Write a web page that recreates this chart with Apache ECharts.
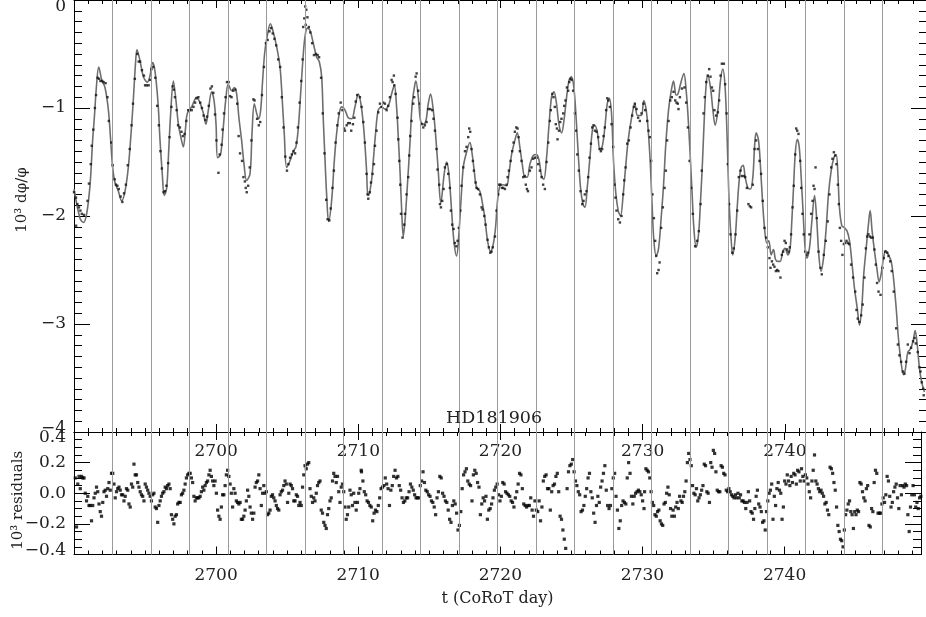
<!DOCTYPE html>
<html>
<head>
<meta charset="utf-8">
<title>HD181906</title>
<script src="https://cdn.jsdelivr.net/npm/echarts@6/dist/echarts.min.js"></script>
<style>
  html, body { margin: 0; background: #fff; }
  #chart { width: 926px; height: 617px; }
</style>
</head>
<body>
<div id="chart"></div>
<script>
// fitted model (grey curve), [day, 10^3 dphi/phi]
const modelCurve = [
  [2690.00,-1.75],[2690.42,-2.02],[2690.66,-2.06],[2690.89,-1.98],[2691.13,-1.71],[2691.31,-1.30],[2691.43,-1.09],[2691.59,-0.78],[2691.74,-0.62],[2691.95,-0.74],
  [2692.18,-0.81],[2692.42,-1.02],[2692.58,-1.30],[2692.72,-1.55],[2692.88,-1.69],[2693.12,-1.77],[2693.35,-1.86],[2693.59,-1.77],[2693.82,-1.55],[2694.01,-1.24],
  [2694.17,-0.93],[2694.34,-0.56],[2694.43,-0.46],[2694.64,-0.56],[2694.88,-0.71],[2695.16,-0.76],[2695.35,-0.70],[2695.51,-0.58],[2695.63,-0.61],[2695.77,-0.74],
  [2695.93,-0.99],[2696.05,-1.30],[2696.21,-1.61],[2696.35,-1.81],[2696.52,-1.74],[2696.66,-1.40],[2696.80,-1.05],[2696.99,-0.75],[2697.17,-0.93],[2697.34,-1.15],
  [2697.50,-1.26],[2697.69,-1.36],[2697.85,-1.18],[2697.97,-1.05],[2698.27,-0.99],[2698.63,-0.90],[2698.86,-0.95],[2699.10,-1.05],[2699.28,-1.15],[2699.45,-1.02],
  [2699.68,-0.85],[2699.85,-0.93],[2699.99,-1.15],[2700.10,-1.46],[2700.31,-1.43],[2700.50,-1.18],[2700.67,-0.93],[2700.85,-0.78],[2701.09,-0.84],[2701.28,-0.81],
  [2701.44,-0.87],[2701.60,-1.09],[2701.79,-1.30],[2701.96,-1.52],[2702.14,-1.67],[2702.38,-1.61],[2702.52,-1.24],[2702.68,-0.96],[2702.85,-1.05],[2702.99,-1.10],
  [2703.13,-1.02],[2703.27,-0.74],[2703.43,-0.47],[2703.67,-0.28],[2703.81,-0.22],[2704.02,-0.30],[2704.25,-0.43],[2704.49,-0.62],[2704.65,-0.93],[2704.79,-1.24],
  [2704.96,-1.55],[2705.19,-1.49],[2705.43,-1.40],[2705.61,-1.36],[2705.78,-1.18],[2705.94,-0.87],[2706.13,-0.50],[2706.25,-0.34],[2706.41,-0.26],[2706.60,-0.28],
  [2706.83,-0.40],[2707.07,-0.53],[2707.25,-0.57],[2707.42,-0.71],[2707.53,-1.09],[2707.65,-1.46],[2707.77,-1.80],[2707.91,-2.05],[2708.12,-1.86],[2708.31,-1.49],
  [2708.47,-1.24],[2708.66,-1.05],[2708.82,-0.99],[2709.06,-1.02],[2709.29,-1.09],[2709.53,-1.10],[2709.76,-0.99],[2710.00,-0.87],
  [2710.18,-0.96],[2710.35,-1.15],[2710.46,-1.33],[2710.58,-1.58],[2710.67,-1.81],[2710.76,-1.80],[2710.93,-1.67],[2711.05,-1.49],[2711.21,-1.24],[2711.40,-1.02],
  [2711.64,-0.99],[2711.87,-1.01],[2712.11,-0.98],[2712.34,-0.87],[2712.53,-0.79],[2712.69,-0.99],[2712.81,-1.27],[2712.93,-1.58],[2713.04,-1.92],[2713.16,-2.19],
  [2713.28,-2.05],[2713.44,-1.74],[2713.63,-1.33],[2713.79,-0.96],[2713.98,-0.78],[2714.05,-0.75],[2714.22,-0.90],[2714.38,-1.12],[2714.57,-1.15],[2714.75,-1.12],
  [2714.92,-0.96],[2715.08,-0.87],[2715.27,-1.02],[2715.43,-1.24],[2715.62,-1.58],[2715.80,-1.88],[2716.04,-1.61],[2716.21,-1.50],[2716.37,-1.61],[2716.56,-1.95],
  [2716.72,-2.23],[2716.91,-2.37],[2717.07,-2.17],[2717.22,-1.86],[2717.38,-1.55],[2717.57,-1.43],[2717.85,-1.32],[2718.01,-1.43],[2718.15,-1.58],[2718.32,-1.74],
  [2718.55,-1.77],[2718.74,-1.89],[2718.90,-2.02],[2719.09,-2.23],[2719.30,-2.33],[2719.49,-2.26],[2719.65,-2.11],[2719.79,-1.86],[2719.96,-1.72],[2720.19,-1.71],
  [2720.43,-1.72],[2720.59,-1.61],[2720.78,-1.43],[2721.01,-1.30],[2721.18,-1.23],[2721.36,-1.36],[2721.53,-1.52],[2721.72,-1.64],[2721.88,-1.64],[2722.07,-1.52],
  [2722.30,-1.44],[2722.54,-1.43],[2722.72,-1.49],[2722.89,-1.63],[2723.05,-1.66],[2723.24,-1.46],[2723.40,-1.18],[2723.59,-0.90],[2723.76,-0.85],[2723.94,-0.96],
  [2724.11,-1.15],[2724.30,-1.23],[2724.46,-1.12],[2724.65,-0.90],[2724.83,-0.74],[2725.00,-0.71],[2725.16,-0.81],[2725.30,-1.05],[2725.47,-1.43],[2725.63,-1.74],
  [2725.80,-1.89],[2725.94,-1.92],[2726.10,-1.74],[2726.29,-1.46],[2726.48,-1.19],[2726.64,-1.16],[2726.83,-1.24],[2726.99,-1.38],[2727.15,-1.36],[2727.34,-1.18],
  [2727.51,-0.96],[2727.65,-0.91],[2727.81,-1.05],[2727.95,-1.49],[2728.12,-1.80],[2728.28,-1.95],[2728.44,-2.00],[2728.63,-1.80],[2728.80,-1.55],[2728.98,-1.30],
  [2729.22,-1.09],[2729.45,-0.96],[2729.64,-1.07],
  [2729.90,-1.07],[2730.08,-0.93],[2730.25,-1.02],[2730.41,-1.24],[2730.55,-1.55],[2730.67,-1.92],[2730.79,-2.23],[2730.95,-2.37],[2731.12,-2.30],[2731.30,-2.02],
  [2731.47,-1.71],[2731.63,-1.33],[2731.82,-1.02],[2732.01,-0.84],[2732.17,-0.75],[2732.36,-0.88],[2732.48,-0.87],[2732.64,-0.79],[2732.90,-0.68],[2733.06,-0.84],
  [2733.18,-1.05],[2733.34,-1.43],[2733.48,-1.80],[2733.60,-2.11],[2733.76,-2.29],[2733.93,-2.17],[2734.07,-1.86],[2734.21,-1.49],[2734.35,-1.05],[2734.47,-0.78],
  [2734.58,-0.70],[2734.77,-0.81],[2734.94,-1.02],[2735.10,-1.16],[2735.29,-1.02],[2735.48,-0.74],[2735.64,-0.64],[2735.80,-0.81],[2735.94,-1.27],[2736.06,-1.80],
  [2736.20,-2.17],[2736.34,-2.36],[2736.51,-2.20],[2736.65,-1.92],[2736.79,-1.67],[2736.93,-1.55],[2737.07,-1.53],[2737.21,-1.64],[2737.40,-1.74],[2737.58,-1.75],
  [2737.75,-1.64],[2737.87,-1.36],[2737.98,-1.23],[2738.15,-1.30],[2738.29,-1.55],[2738.43,-1.86],[2738.57,-2.11],[2738.73,-2.25],[2738.87,-2.23],[2739.04,-2.36],
  [2739.20,-2.31],[2739.34,-2.40],[2739.51,-2.42],[2739.67,-2.42],[2739.86,-2.33],[2740.02,-2.30],[2740.21,-2.36],[2740.37,-2.30],[2740.49,-2.05],[2740.61,-1.74],
  [2740.73,-1.43],[2740.87,-1.29],[2741.01,-1.36],[2741.15,-1.64],[2741.29,-1.98],[2741.43,-2.30],[2741.55,-2.39],[2741.73,-2.30],[2741.90,-2.05],[2742.09,-1.81],
  [2742.25,-2.05],[2742.39,-2.36],[2742.55,-2.51],[2742.72,-2.39],[2742.91,-2.11],[2743.07,-1.80],[2743.26,-1.58],[2743.45,-1.46],[2743.61,-1.43],[2743.73,-1.61],
  [2743.84,-1.92],[2744.01,-2.09],[2744.20,-2.11],[2744.38,-2.14],[2744.55,-2.23],[2744.71,-2.42],[2744.90,-2.67],[2745.09,-2.85],[2745.25,-3.01],[2745.41,-2.85],
  [2745.55,-2.54],[2745.72,-2.30],[2745.88,-2.08],[2746.00,-1.95],[2746.14,-2.14],[2746.31,-2.33],[2746.47,-2.48],[2746.63,-2.61],[2746.77,-2.54],[2746.94,-2.39],
  [2747.10,-2.32],[2747.29,-2.36],[2747.48,-2.42],[2747.64,-2.57],[2747.83,-2.85],[2747.99,-3.13],[2748.18,-3.36],[2748.35,-3.47],[2748.49,-3.41],[2748.65,-3.26],
  [2748.84,-3.23],[2749.02,-3.16],[2749.17,-3.06],[2749.31,-3.19],[2749.47,-3.41],[2749.63,-3.54],[2749.82,-3.63]
]

// observed points (black dots), [day, 10^3 dphi/phi]
const observed = [
  [2690.00,-1.78],[2690.14,-1.83],[2690.15,-2.09],[2690.24,-1.89],[2690.35,-1.92],[2690.45,-1.95],[2690.55,-1.98],[2690.70,-1.99],[2690.95,-1.86],[2691.05,-1.70],
  [2691.18,-1.52],[2691.25,-1.35],[2691.36,-1.20],[2691.47,-1.00],[2691.55,-0.88],[2691.66,-0.72],[2691.76,-0.73],[2691.86,-0.75],[2691.98,-0.75],[2692.08,-0.76],
  [2692.22,-0.77],[2692.35,-0.90],[2692.45,-1.12],[2692.62,-1.32],[2692.72,-1.53],[2692.86,-1.66],[2692.95,-1.71],[2693.05,-1.72],[2693.15,-1.75],[2693.28,-1.82],
  [2693.40,-1.87],[2693.52,-1.79],[2693.65,-1.71],[2693.78,-1.53],[2693.92,-1.38],[2694.05,-1.16],[2694.15,-0.96],[2694.28,-0.73],[2694.45,-0.50],[2694.55,-0.57],
  [2694.65,-0.57],[2694.78,-0.65],[2694.92,-0.70],[2695.00,-0.79],[2695.12,-0.79],[2695.25,-0.79],[2695.35,-0.74],[2695.45,-0.64],[2695.58,-0.62],[2695.72,-0.72],
  [2695.85,-0.98],[2695.97,-1.16],[2696.08,-1.40],[2696.18,-1.56],[2696.30,-1.78],[2696.40,-1.77],[2696.50,-1.72],[2696.62,-1.51],[2696.72,-1.27],[2696.85,-0.99],
  [2696.94,-0.80],[2697.02,-0.83],[2697.10,-0.90],[2697.22,-1.02],[2697.32,-1.16],[2697.45,-1.18],[2697.56,-1.22],[2697.66,-1.26],[2697.78,-1.24],[2697.90,-1.12],
  [2698.03,-1.02],[2698.15,-1.02],[2698.28,-1.02],[2698.40,-0.99],[2698.52,-0.95],[2698.62,-0.91],[2698.75,-0.90],[2698.88,-0.95],[2699.00,-1.00],[2699.12,-1.07],
  [2699.24,-1.11],[2699.36,-1.08],[2699.48,-0.98],[2699.60,-0.82],[2699.70,-0.80],[2699.80,-0.86],[2699.92,-1.06],[2700.02,-1.30],[2700.16,-1.60],[2700.25,-1.43],
  [2700.38,-1.34],[2700.45,-1.20],[2700.55,-1.05],[2700.66,-0.90],[2700.76,-0.76],[2700.88,-0.76],[2700.98,-0.89],[2701.08,-0.90],[2701.20,-0.84],[2701.35,-0.83],
  [2701.48,-0.96],[2701.58,-1.26],[2701.68,-1.42],[2701.82,-1.49],[2701.92,-1.64],[2702.02,-1.68],[2702.08,-1.74],[2702.15,-1.78],[2702.25,-1.72],[2702.36,-1.55],
  [2702.48,-1.30],[2702.62,-0.92],[2702.70,-0.93],[2702.88,-1.10],[2703.00,-1.16],[2703.10,-1.13],[2703.22,-0.88],[2703.36,-0.62],[2703.50,-0.40],[2703.62,-0.37],
  [2703.75,-0.29],[2703.87,-0.26],[2703.98,-0.31],[2704.10,-0.36],[2704.22,-0.42],[2704.36,-0.55],[2704.50,-0.62],[2704.62,-0.90],[2704.74,-1.18],[2704.86,-1.45],
  [2704.98,-1.58],[2705.08,-1.52],[2705.20,-1.46],[2705.32,-1.43],[2705.44,-1.40],[2705.55,-1.42],[2705.65,-1.32],[2705.75,-1.18],[2705.87,-0.95],[2705.98,-0.75],
  [2706.08,-0.55],[2706.12,-0.25],[2706.20,-0.17],[2706.26,-0.06],[2706.34,-0.09],[2706.42,-0.16],[2706.30,-0.23],[2706.52,-0.25],[2706.62,-0.30],[2706.75,-0.40],
  [2706.88,-0.51],[2707.02,-0.50],[2707.14,-0.51],[2707.24,-0.53],[2707.38,-0.72],[2707.50,-1.05],[2707.62,-1.42],[2707.74,-1.85],[2707.84,-2.03],[2707.96,-2.04],
  [2708.06,-1.93],[2708.18,-1.74],[2708.28,-1.58],[2708.40,-1.32],[2708.52,-1.16],[2708.62,-1.05],[2708.76,-0.95],[2708.88,-1.02],[2709.00,-1.19],[2709.06,-1.21],
  [2709.18,-1.16],[2709.28,-1.14],[2709.40,-1.14],[2709.50,-1.21],[2709.62,-1.15],[2709.72,-1.09],[2709.82,-0.94],[2709.92,-0.88],
  [2710.11,-0.90],[2710.23,-0.99],[2710.35,-1.13],[2710.46,-1.32],[2710.58,-1.61],[2710.65,-1.80],[2710.70,-1.84],[2710.81,-1.78],[2710.89,-1.69],[2711.00,-1.61],
  [2711.10,-1.52],[2711.17,-1.35],[2711.28,-1.21],[2711.40,-1.04],[2711.52,-0.96],[2711.64,-0.99],[2711.75,-0.95],[2711.87,-0.96],[2711.99,-1.02],[2712.10,-0.98],
  [2712.22,-0.90],[2712.34,-0.74],[2712.41,-0.76],[2712.50,-0.70],[2712.53,-0.79],[2712.62,-0.87],[2712.76,-1.09],[2712.81,-1.29],[2712.88,-1.49],[2712.95,-1.71],
  [2713.00,-1.98],[2713.11,-2.20],[2713.23,-2.08],[2713.28,-1.98],[2713.39,-1.80],[2713.51,-1.64],[2713.58,-1.44],[2713.65,-1.26],[2713.74,-1.12],[2713.86,-0.96],
  [2713.93,-0.90],[2714.03,-0.71],[2714.10,-0.68],[2714.21,-0.84],[2714.33,-0.96],[2714.45,-1.15],[2714.57,-1.18],[2714.68,-1.16],[2714.80,-1.13],[2714.92,-1.01],
  [2715.06,-1.01],[2715.20,-1.02],[2715.29,-1.10],[2715.39,-1.21],[2715.50,-1.38],[2715.57,-1.57],[2715.69,-1.71],[2715.74,-1.89],[2715.81,-1.92],[2715.90,-1.86],
  [2716.00,-1.75],[2716.09,-1.55],[2716.23,-1.52],[2716.32,-1.61],[2716.44,-1.74],[2716.51,-1.95],[2716.60,-2.08],[2716.70,-2.12],[2716.79,-2.25],[2716.89,-2.28],
  [2716.98,-2.23],[2717.07,-2.11],[2717.17,-1.95],[2717.26,-1.72],[2717.38,-1.55],[2717.50,-1.40],[2717.61,-1.36],[2717.73,-1.27],[2717.80,-1.19],[2717.87,-1.22],
  [2717.96,-1.38],[2718.06,-1.49],[2718.13,-1.58],[2718.25,-1.69],[2718.32,-1.74],[2718.43,-1.75],[2718.55,-1.80],[2718.67,-1.92],[2718.74,-1.94],[2718.86,-2.00],
  [2718.95,-2.08],[2719.09,-2.22],[2719.18,-2.29],[2719.28,-2.34],[2719.37,-2.33],[2719.46,-2.29],[2719.61,-2.19],[2719.72,-1.95],[2719.84,-1.80],[2719.91,-1.71],
  [2720.00,-1.71],[2720.10,-1.74],[2720.19,-1.74],[2720.31,-1.75],[2720.43,-1.71],[2720.50,-1.64],[2720.59,-1.58],[2720.71,-1.49],[2720.82,-1.40],[2720.92,-1.32],
  [2721.01,-1.22],[2721.11,-1.18],[2721.20,-1.19],[2721.27,-1.27],[2721.36,-1.40],[2721.48,-1.49],[2721.60,-1.64],[2721.71,-1.63],[2721.78,-1.71],[2721.86,-1.75],
  [2721.93,-1.77],[2722.07,-1.58],[2722.18,-1.55],[2722.30,-1.47],[2722.42,-1.46],[2722.54,-1.46],[2722.65,-1.52],[2722.77,-1.58],[2722.89,-1.64],[2723.00,-1.71],
  [2723.12,-1.75],[2723.24,-1.50],[2723.36,-1.32],[2723.47,-1.12],[2723.54,-1.02],[2723.64,-0.87],[2723.73,-0.90],[2723.82,-0.99],[2723.89,-1.15],[2723.97,-1.19],
  [2724.01,-1.29],[2724.11,-1.21],[2724.20,-1.13],[2724.29,-1.10],[2724.41,-1.05],[2724.48,-0.98],[2724.57,-0.93],[2724.67,-0.81],[2724.76,-0.84],[2724.83,-0.76],
  [2724.93,-0.73],[2725.00,-0.74],[2725.11,-0.84],[2725.23,-1.05],[2725.30,-1.21],[2725.40,-1.43],[2725.51,-1.58],[2725.63,-1.77],[2725.75,-1.89],[2725.84,-1.86],
  [2725.93,-1.80],[2726.05,-1.77],[2726.17,-1.64],[2726.26,-1.46],[2726.36,-1.33],[2726.45,-1.18],[2726.54,-1.16],[2726.64,-1.21],[2726.76,-1.22],[2726.87,-1.27],
  [2726.97,-1.38],[2727.06,-1.40],[2727.15,-1.38],[2727.25,-1.26],[2727.34,-1.18],[2727.43,-1.02],[2727.51,-0.91],[2727.58,-0.93],[2727.69,-0.99],[2727.81,-1.15],
  [2727.93,-1.36],[2728.02,-1.71],[2728.09,-1.83],[2728.16,-1.95],[2728.28,-2.03],[2728.40,-2.06],[2728.51,-2.00],[2728.63,-1.80],[2728.70,-1.67],[2728.80,-1.55],
  [2728.91,-1.33],[2729.03,-1.30],[2729.15,-1.18],[2729.26,-1.07],[2729.38,-0.99],[2729.45,-0.96],[2729.57,-1.01],[2729.68,-1.09],[2729.80,-1.12],[2729.92,-1.05],
  [2730.06,-0.96],
  [2730.18,-1.02],[2730.32,-1.12],[2730.41,-1.21],[2730.51,-1.27],[2730.60,-1.49],[2730.69,-1.80],[2730.79,-2.02],[2730.88,-2.23],[2730.95,-2.37],[2731.02,-2.53],
  [2731.12,-2.50],[2731.19,-2.43],[2731.30,-2.11],[2731.42,-1.92],[2731.54,-1.74],[2731.63,-1.58],[2731.72,-1.30],[2731.82,-1.12],[2731.94,-0.93],[2732.05,-0.90],
  [2732.17,-0.85],[2732.29,-0.93],[2732.38,-0.95],[2732.47,-0.96],[2732.52,-1.01],[2732.62,-0.90],[2732.76,-0.82],[2732.94,-0.81],[2733.06,-0.95],[2733.18,-1.18],
  [2733.30,-1.49],[2733.41,-1.74],[2733.53,-1.98],[2733.69,-2.28],[2733.83,-2.23],[2733.95,-2.14],[2734.07,-1.89],[2734.16,-1.58],[2734.28,-1.05],[2734.37,-0.90],
  [2734.47,-0.76],[2734.58,-0.70],[2734.68,-0.64],[2734.77,-0.71],[2734.87,-0.81],[2734.96,-0.84],[2735.05,-1.02],[2735.17,-1.07],[2735.29,-1.04],[2735.38,-0.93],
  [2735.48,-0.70],[2735.57,-0.59],[2735.71,-0.59],[2735.80,-0.78],[2735.90,-1.05],[2735.99,-1.52],[2736.08,-1.89],[2736.18,-2.17],[2736.30,-2.34],[2736.41,-2.30],
  [2736.53,-2.17],[2736.65,-1.95],[2736.76,-1.64],[2736.88,-1.58],[2736.97,-1.63],[2737.12,-1.63],[2737.21,-1.64],[2737.33,-1.74],[2737.44,-1.89],[2737.54,-1.91],
  [2737.63,-1.92],[2737.75,-1.71],[2737.87,-1.38],[2737.98,-1.30],[2738.10,-1.38],[2738.22,-1.49],[2738.33,-1.61],[2738.45,-1.86],[2738.57,-2.11],[2738.69,-2.20],
  [2738.80,-2.29],[2738.92,-2.39],[2738.99,-2.48],[2739.09,-2.42],[2739.18,-2.45],[2739.27,-2.47],[2739.37,-2.51],[2739.46,-2.50],[2739.55,-2.51],[2739.69,-2.57],
  [2739.79,-2.36],[2739.88,-2.33],[2739.98,-2.23],[2740.07,-2.25],[2740.16,-2.31],[2740.26,-2.33],[2740.35,-2.29],[2740.44,-2.17],[2740.54,-1.92],[2740.63,-1.72],
  [2740.73,-1.43],[2740.80,-1.19],[2740.87,-1.21],[2740.96,-1.24],[2741.08,-1.49],[2741.15,-1.74],[2741.24,-1.98],[2741.33,-2.17],[2741.43,-2.33],[2741.52,-2.36],
  [2741.62,-2.34],[2741.73,-2.17],[2741.85,-1.98],[2741.95,-1.86],[2742.02,-1.72],[2742.09,-1.75],[2742.16,-1.55],[2742.25,-2.02],[2742.37,-2.33],[2742.51,-2.48],
  [2742.60,-2.54],[2742.74,-2.36],[2742.88,-2.23],[2743.02,-2.05],[2743.14,-1.80],[2743.26,-1.55],[2743.35,-1.47],[2743.45,-1.41],[2743.54,-1.44],[2743.63,-1.52],
  [2743.73,-1.71],[2743.80,-1.89],[2743.87,-2.11],[2743.96,-2.23],[2744.05,-2.36],[2744.15,-2.26],[2744.24,-2.25],[2744.34,-2.23],[2744.43,-2.25],[2744.52,-2.26],
  [2744.66,-2.45],[2744.80,-2.57],[2744.95,-2.70],[2745.04,-2.87],[2745.13,-2.95],[2745.25,-2.98],[2745.37,-2.92],[2745.48,-2.82],[2745.60,-2.57],[2745.70,-2.30],
  [2745.79,-2.19],[2745.88,-2.17],[2745.98,-2.19],[2746.07,-2.20],[2746.19,-2.20],[2746.30,-2.31],[2746.40,-2.45],[2746.49,-2.62],[2746.59,-2.70],[2746.73,-2.73],
  [2746.87,-2.48],[2746.96,-2.39],[2747.05,-2.33],[2747.20,-2.34],[2747.29,-2.37],[2747.41,-2.42],[2747.52,-2.51],[2747.66,-2.70],[2747.83,-3.04],[2747.95,-3.19],
  [2748.06,-3.29],[2748.18,-3.35],[2748.30,-3.44],[2748.41,-3.46],[2748.53,-3.35],[2748.65,-3.19],[2748.77,-3.27],[2748.88,-3.22],[2749.02,-3.16],[2749.12,-3.13],
  [2749.21,-3.18],[2749.35,-3.26],[2749.47,-3.40],[2749.54,-3.44],[2749.63,-3.54],[2749.73,-3.60],[2749.77,-3.66]
]

// residuals (10^3), evenly sampled over three stretches of the run
const residualsA = [
  0.10,-0.22,0.06,0.11,0.03,0.11,0.10,0.10,0.00,-0.05,-0.02,-0.08,-0.08,-0.18,-0.08,-0.03,0.00,0.04,0.01,-0.07,
  -0.12,-0.15,-0.06,0.01,0.02,-0.02,0.03,0.07,0.02,0.13,0.13,0.06,-0.03,0.01,0.03,0.04,0.02,-0.01,-0.01,-0.05,
  -0.02,0.03,0.02,-0.07,-0.09,0.06,0.04,0.19,0.12,0.12,0.07,0.04,0.01,-0.01,-0.02,-0.05,0.06,0.04,0.02,0.00,
  -0.02,-0.05,-0.01,0.00,-0.09,-0.10,-0.19,-0.08,-0.05,-0.02,0.00,0.01,0.04,0.03,0.05,0.06,0.03,-0.14,-0.17,-0.20,
  -0.15,-0.14,-0.07,-0.06,-0.06,-0.01,0.00,0.02,0.06,0.10,0.12,0.13,0.13,0.10,0.07,-0.02,-0.05,-0.03,-0.03,-0.03,
  -0.02,0.01,0.04,0.02,0.05,0.07,0.08,0.12,0.15,0.11,0.08,0.05,0.08,0.00,-0.11,-0.15,-0.17,-0.09,-0.01,-0.01,
  0.05,0.12,0.15,0.11,0.06,0.00,-0.09,0.03,0.00,-0.05,-0.06,-0.07,-0.06,-0.17,-0.17,-0.15,-0.11,-0.05,0.02,-0.02,
  -0.09,-0.13,-0.17,-0.13,0.04,0.07,0.08,0.12,0.03,-0.08,0.00,0.05,0.00,0.01,-0.14,-0.13,-0.11,-0.02,-0.01,-0.03,
  -0.05,-0.08,-0.10,-0.11,-0.01,0.01,0.02,0.05,0.08,0.06,-0.06,0.00,0.06,0.05,0.03,-0.05,-0.05,-0.01,-0.02,-0.08,
  -0.06,-0.08,0.04,0.12,0.18,0.16,0.19,0.20,0.03,-0.02,-0.06,-0.03,-0.05,0.00,0.05,0.07,0.08,-0.11,-0.13,-0.19,
  -0.21,-0.23,-0.14,-0.10,-0.05,-0.03,0.08,0.13,0.11,0.07,0.11,0.01,-0.06,0.04,0.06,0.01,-0.09,-0.17,-0.14,-0.09,
  0.02,-0.01,-0.08,0.00,-0.06,-0.11,-0.06,0.00,0.03,0.15
]
const residualsB = [
  0.14,0.08,0.01,-0.01,-0.05,-0.06,-0.08,-0.09,-0.18,-0.13,-0.11,-0.12,-0.08,-0.03,0.03,0.04,0.05,0.10,0.06,0.03,
  -0.08,0.02,0.05,0.11,0.15,0.10,0.11,0.05,0.02,-0.03,-0.06,-0.05,-0.03,-0.03,0.01,0.06,0.04,0.02,-0.01,-0.03,
  -0.03,-0.03,0.05,0.08,0.14,0.07,0.02,0.01,-0.01,-0.02,-0.05,-0.06,-0.09,-0.14,-0.03,0.01,0.11,0.10,0.00,-0.02,
  -0.05,-0.06,-0.11,-0.17,-0.19,-0.08,-0.05,-0.07,-0.13,-0.24,-0.21,-0.12,0.03,0.12,0.14,0.16,0.08,0.06,0.05,-0.05,
  0.12,0.15,0.13,0.07,0.04,-0.14,-0.07,-0.03,-0.05,-0.02,-0.17,-0.11,-0.10,-0.07,-0.03,0.02,0.04,0.06,-0.01,-0.05,
  -0.02,0.07,0.06,0.01,0.00,-0.01,-0.02,-0.05,-0.06,-0.09,-0.03,0.01,0.06,0.13,0.12,0.03,-0.07,-0.08,-0.09,-0.08,
  -0.08,-0.03,-0.11,-0.15,-0.05,-0.11,-0.12,-0.05,-0.18,-0.09,0.08,0.11,0.12,0.03,0.03,-0.11,0.01,0.05,0.06,0.11,
  0.13,0.01,-0.15,-0.17,-0.24,-0.30,-0.36,0.03,0.14,0.18,0.19,0.22,0.14,0.08,0.05,0.01,-0.01,-0.12,-0.11,-0.08,
  -0.02,0.03,0.10,0.13,0.01,-0.03,-0.13,-0.19,-0.08,-0.02,-0.06,0.04,0.08,0.13,0.18,0.02,-0.08,-0.10,-0.08,0.03,
  0.10,0.13,-0.02,-0.11,-0.23,-0.18,-0.08,-0.05,-0.06,-0.07,0.10,0.20,0.13,-0.02,-0.07,-0.02,0.00,0.01,0.02,0.01,
  -0.01,-0.05,-0.10
]
const residualsC = [
  0.01,0.16,0.15,0.14,0.10,0.01,-0.06,-0.08,-0.14,-0.15,-0.12,-0.11,-0.18,-0.20,-0.21,-0.07,-0.06,0.00,0.04,-0.01,
  -0.10,-0.15,-0.11,-0.15,-0.09,-0.06,-0.10,-0.02,-0.05,-0.06,-0.02,0.01,0.08,0.20,0.26,0.22,0.18,0.05,0.00,-0.01,
  0.03,-0.05,-0.03,-0.01,0.02,0.05,0.19,0.18,0.01,0.00,-0.06,0.20,0.17,0.28,0.26,0.14,0.02,0.01,0.01,0.18,
  0.17,0.13,0.12,0.02,0.01,0.03,0.01,-0.01,-0.02,-0.03,-0.01,-0.03,0.00,-0.03,-0.01,-0.05,-0.05,-0.06,-0.10,-0.06,
  0.01,-0.05,-0.12,-0.13,-0.17,-0.10,-0.02,0.02,-0.07,-0.09,-0.12,-0.19,-0.18,-0.24,-0.12,-0.05,0.00,0.02,0.06,-0.17,
  -0.02,-0.08,0.03,0.07,0.02,0.00,-0.17,-0.09,0.08,0.06,0.12,0.08,0.05,0.11,0.07,0.13,0.12,0.06,0.15,0.14,
  0.08,0.16,0.11,0.08,0.12,0.10,0.06,0.01,-0.03,0.08,0.15,0.25,0.08,0.06,0.03,0.01,0.02,0.00,-0.02,-0.07,
  -0.06,-0.11,-0.14,0.17,0.16,0.13,0.07,0.02,-0.09,-0.21,-0.25,-0.30,-0.31,-0.35,-0.24,-0.14,-0.11,-0.07,-0.05,-0.12,
  -0.14,-0.23,-0.12,-0.14,-0.11,-0.12,0.07,0.06,0.01,-0.03,-0.05,0.03,0.05,-0.21,-0.22,-0.10,-0.12,0.07,0.15,0.13,
  -0.13,-0.13,-0.13,-0.07,-0.03,-0.06,-0.01,0.11,0.08,-0.02,-0.09,-0.06,0.01,0.04,0.06,-0.03,-0.10,0.05,-0.01,0.05,
  0.04,0.06,0.05,-0.14,-0.25,-0.09,-0.01,0.05,-0.01,-0.09,-0.06,-0.10,-0.03,-0.02
]
// first and last day covered by each residual stretch
const residualSpans = [[2690.09, 2710.21], [2710.23, 2730.11], [2730.15, 2749.59]]

// grey vertical markers (days)
const rotationMarks = [
  2692.72, 2695.43, 2698.14, 2700.85, 2703.55, 2706.26, 2708.97, 2711.68, 2714.38, 2717.09, 2719.80,
  2722.51, 2725.21, 2727.92, 2730.63, 2733.34, 2736.04, 2738.75, 2741.46, 2744.17, 2746.87
]

const FONT = '"DejaVu Serif", serif'
const INK = '#222'

const spread = (vals, span) => vals.map((v, i) => [span[0] + i * (span[1] - span[0]) / (vals.length - 1), v])
const residualPoints = [
  ...spread(residualsA, residualSpans[0]),
  ...spread(residualsB, residualSpans[1]),
  ...spread(residualsC, residualSpans[2])
]

const minus = (s) => String(s).replace('-', '\u2212')

function xAxisFor(grid, position, max, label, extra) {
  return Object.assign({
    type: 'value', gridIndex: grid, position: position, min: 2690, max: max, interval: 10,
    axisLine: { onZero: false, lineStyle: { color: '#000', width: 1 } },
    axisTick: { inside: true, length: 8, lineStyle: { color: '#000' } },
    minorTick: { show: true, splitNumber: 10, length: 4, lineStyle: { color: '#000' } },
    splitLine: { show: false },
    axisLabel: label
      ? Object.assign({
          show: true, fontFamily: FONT, fontSize: 17, color: INK,
          showMinLabel: false, showMaxLabel: false,
          formatter: (v) => String(v)
        }, label)
      : { show: false }
  }, extra || {})
}

function yAxisFor(grid, position, min, max, interval, minorSplit, label, extra) {
  return Object.assign({
    type: 'value', gridIndex: grid, position: position, min: min, max: max, interval: interval,
    axisLine: { onZero: false, lineStyle: { color: '#000', width: 1 } },
    axisTick: { inside: true, length: 16, lineStyle: { color: '#000' } },
    minorTick: { show: true, splitNumber: minorSplit, length: 8, lineStyle: { color: '#000' } },
    splitLine: { show: false },
    axisLabel: label
      ? Object.assign({ show: true, fontFamily: FONT, fontSize: 17, color: INK, margin: 8 }, label)
      : { show: false }
  }, extra || {})
}

const richEdge = (top, bottom) => ({
  fontFamily: FONT, fontSize: 17, color: INK, padding: [top, 0, bottom, 0]
})

const markerSeries = (xi, yi) => ({
  type: 'scatter', xAxisIndex: xi, yAxisIndex: yi, data: [], z: 1, silent: true,
  markLine: {
    symbol: ['none', 'none'], silent: true, animation: false,
    label: { show: false },
    lineStyle: { color: '#9a9a9a', width: 1, type: 'solid' },
    data: rotationMarks.map(d => ({ xAxis: d }))
  }
})

const chart = echarts.init(document.getElementById('chart'))

chart.setOption({
  animation: false,
  backgroundColor: '#fff',
  textStyle: { fontFamily: FONT },
  title: {
    text: 'HD181906',
    left: 441, top: 404,
    textStyle: { fontFamily: FONT, fontSize: 17.5, fontWeight: 'normal', color: INK }
  },
  grid: [
    { left: 74, top: 0, width: 853, height: 432, outerBoundsMode: 'none', containLabel: false },
    { left: 74, top: 432, width: 847, height: 122.5, outerBoundsMode: 'none', containLabel: false }
  ],
  xAxis: [
    xAxisFor(0, 'bottom', 2750, { margin: 11 }),
    xAxisFor(0, 'top', 2750, null),
    xAxisFor(1, 'bottom', 2749.6, { margin: 13 }, {
      name: 't (CoRoT day)', nameLocation: 'middle', nameGap: 36,
      nameTextStyle: { fontFamily: FONT, fontSize: 16, color: INK }
    }),
    xAxisFor(1, 'top', 2749.6, null)
  ],
  yAxis: [
    yAxisFor(0, 'left', -4, 0, 1, 10, {
      formatter: (v) => v === 0 ? '{t|0}' : v === -4 ? '{b|' + minus(v) + '}' : minus(v),
      rich: { t: richEdge(13, 0), b: richEdge(0, 7) }
    }, {
      name: '10\u00b3 d\u03c6/\u03c6', nameLocation: 'middle', nameGap: 42,
      nameTextStyle: { fontFamily: FONT, fontSize: 15, color: INK, padding: [0, 0, 0, 32] }
    }),
    yAxisFor(0, 'right', -4, 0, 1, 10, null),
    yAxisFor(1, 'left', -0.4, 0.4, 0.2, 4, {
      formatter: (v) => {
        const s = minus(v.toFixed(1))
        if (v > 0.35) return '{t|' + s + '}'
        if (v < -0.35) return '{b|' + s + '}'
        return s
      },
      rich: { t: richEdge(12, 0), b: richEdge(0, 8) }
    }, {
      name: '10\u00b3 residuals', nameLocation: 'middle', nameGap: 48, nameMoveOverlap: false,
      nameTextStyle: { fontFamily: FONT, fontSize: 15, color: INK, padding: [0, 14, 0, 0] }
    }),
    yAxisFor(1, 'right', -0.4, 0.4, 0.2, 4, null)
  ],
  series: [
    markerSeries(0, 0),
    markerSeries(2, 2),
    {
      name: 'model', type: 'line', xAxisIndex: 0, yAxisIndex: 0, data: modelCurve,
      showSymbol: false, smooth: 0.35, z: 3,
      lineStyle: { color: '#6e6e6e', width: 1.6 }
    },
    {
      name: 'data', type: 'scatter', xAxisIndex: 0, yAxisIndex: 0, data: observed,
      symbol: 'rect', symbolSize: 2.4, z: 4,
      itemStyle: { color: '#111' }
    },
    {
      name: 'residuals', type: 'scatter', xAxisIndex: 2, yAxisIndex: 2, data: residualPoints,
      symbol: 'rect', symbolSize: 3.2, z: 4,
      itemStyle: { color: '#000' }
    }
  ]
})
</script>
</body>
</html>
